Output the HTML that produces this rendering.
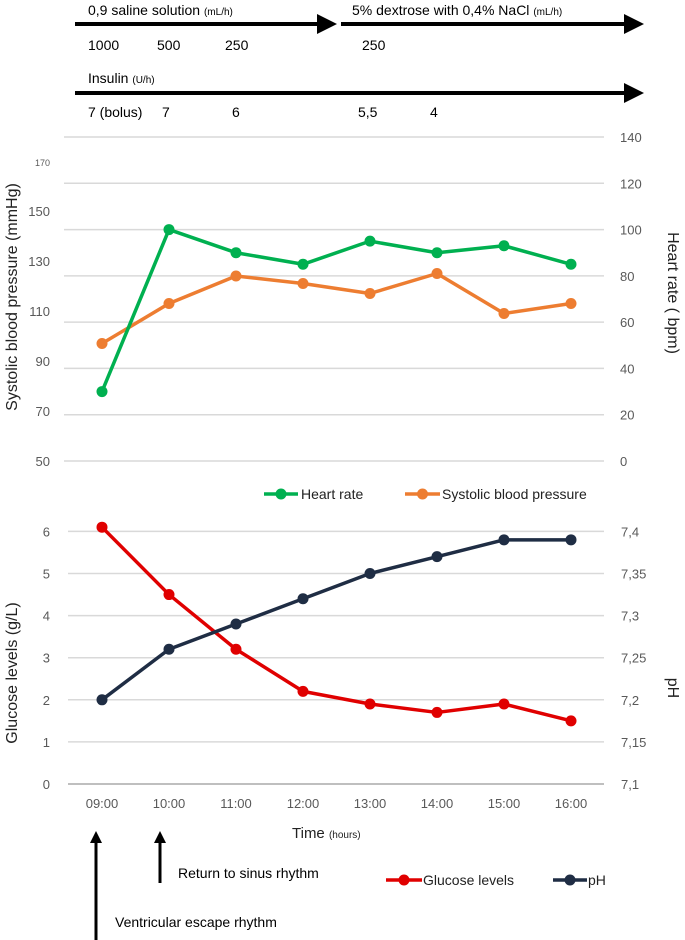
<!DOCTYPE html>
<html><head><meta charset="utf-8"><style>
html,body{margin:0;padding:0;background:#fff;}
svg{display:block;font-family:"Liberation Sans",sans-serif;}
</style></head><body>
<svg id="c" width="685" height="940" viewBox="0 0 685 940">
<defs><marker id="ah" markerWidth="5" markerHeight="5" refX="4" refY="2.5" orient="auto" markerUnits="strokeWidth"><path d="M0,0 L5,2.5 L0,5 z" fill="#000"/></marker>
<marker id="ah2" markerWidth="4" markerHeight="4" refX="3" refY="2" orient="auto" markerUnits="strokeWidth"><path d="M0,0 L4,2 L0,4 z" fill="#000"/></marker></defs>
<g font-size="14" fill="#000">
<text x="88" y="15">0,9 saline solution <tspan font-size="10">(mL/h)</tspan></text>
<line x1="75" y1="24" x2="333" y2="24" stroke="#000" stroke-width="4" marker-end="url(#ah)"/>
<text x="352" y="15">5% dextrose with 0,4% NaCl <tspan font-size="10">(mL/h)</tspan></text>
<line x1="341" y1="24" x2="640" y2="24" stroke="#000" stroke-width="4" marker-end="url(#ah)"/>
<text x="88" y="50">1000</text><text x="157" y="50">500</text><text x="225" y="50">250</text><text x="362" y="50">250</text>
<text x="88" y="83">Insulin <tspan font-size="10">(U/h)</tspan></text>
<line x1="75" y1="93" x2="640" y2="93" stroke="#000" stroke-width="4" marker-end="url(#ah)"/>
<text x="88" y="117">7 (bolus)</text><text x="162" y="117">7</text><text x="232" y="117">6</text><text x="358" y="117">5,5</text><text x="430" y="117">4</text>
</g>
<g id="topchart"></g>
<g id="botchart"></g>
<g font-size="14">
<line x1="96" y1="940" x2="96" y2="834" stroke="#000" stroke-width="3" marker-end="url(#ah2)"/>
<line x1="160" y1="883" x2="160" y2="834" stroke="#000" stroke-width="3" marker-end="url(#ah2)"/>
<text x="178" y="878">Return to sinus rhythm</text>
<text x="115" y="927">Ventricular escape rhythm</text>
</g>
</svg>
<script>
const times=["09:00","10:00","11:00","12:00","13:00","14:00","15:00","16:00"];
const heartRate=[30,100,90,85,95,90,93,85];
const sbp=[97,113,124,121,117,125,109,113];
const sbpTicks=[50,70,90,110,130,150,170];
const hrTicks=[0,20,40,60,80,100,120,140];
const glucose=[6.1,4.5,3.2,2.2,1.9,1.7,1.9,1.5];
const ph=[7.2,7.26,7.29,7.32,7.35,7.37,7.39,7.39];
const glucTicks=[0,1,2,3,4,5,6];
const phTicks=["7,1","7,15","7,2","7,25","7,3","7,35","7,4"];
const NS="http://www.w3.org/2000/svg";
function mk(p,t,a){const e=document.createElementNS(NS,t);for(const k in a)e.setAttribute(k,a[k]);p.appendChild(e);return e;}
const xS=i=>102+i*67;
const yHR=v=>461-v*(324/140);
const ySBP=v=>461-(v-50)*2.5;
const yG=v=>784-v*42.1;
const yPH=v=>784-(v-7.1)*(252.6/0.3);
const gTop=document.getElementById('topchart'),gBot=document.getElementById('botchart');
hrTicks.forEach(v=>{const l=mk(gTop,'line',{x1:64,x2:604,y1:yHR(v),y2:yHR(v),stroke:'#d9d9d9','stroke-width':1.5});


const t=mk(gTop,'text',{x:620,y:yHR(v)+5,'font-size':13,fill:'#595959'});t.textContent=v;

});
sbpTicks.forEach(v=>{const t=mk(gTop,'text',{x:50,y:ySBP(v)+5,'font-size':v===170?9:13,fill:'#595959','text-anchor':'end'});t.textContent=v;

});
function series(g,vals,yf,col,name){const pl=mk(g,'polyline',{points:vals.map((v,i)=>xS(i)+','+yf(v)).join(' '),fill:'none',stroke:col,'stroke-width':3.5,'stroke-linejoin':'round'});


vals.forEach((v,i)=>{const c=mk(g,'circle',{cx:xS(i),cy:yf(v),r:5.5,fill:col});

});}
series(gTop,sbp,ySBP,'#ed7d31','sbp');
series(gTop,heartRate,yHR,'#00b050','heart-rate');
let tt=mk(gTop,'text',{transform:'translate(17,297) rotate(-90)','text-anchor':'middle','font-size':16,fill:'#222'});tt.textContent='Systolic blood pressure (mmHg)';


tt=mk(gTop,'text',{transform:'translate(668,293) rotate(90)','text-anchor':'middle','font-size':16,fill:'#222'});tt.textContent='Heart rate ( bpm)';


function legend(g,x1,x2,y,col,tx,label,name){const l=mk(g,'line',{x1:x1,x2:x2,y1:y,y2:y,stroke:col,'stroke-width':3.5});


const c=mk(g,'circle',{cx:(x1+x2)/2,cy:y,r:5.5,fill:col});


const t=mk(g,'text',{x:tx,y:y+5,'font-size':14,fill:'#222'});t.textContent=label;

}
legend(gTop,264,298,494,'#00b050',301,'Heart rate','heart-rate');
legend(gTop,405,440,494,'#ed7d31',442,'Systolic blood pressure','sbp');
glucTicks.forEach((v,i)=>{const l=mk(gBot,'line',{x1:68,x2:604,y1:yG(v),y2:yG(v),stroke:v===0?'#bfbfbf':'#d9d9d9','stroke-width':v===0?2:1.5});


const a=mk(gBot,'text',{x:50,y:yG(v)+5,'font-size':13,fill:'#595959','text-anchor':'end'});a.textContent=v;


const b=mk(gBot,'text',{x:621,y:yG(v)+5,'font-size':13,fill:'#595959'});b.textContent=phTicks[i];

});
times.forEach((s,i)=>{const a=mk(gBot,'text',{x:xS(i),y:808,'font-size':13,fill:'#595959','text-anchor':'middle'});a.textContent=s;

});
series(gBot,glucose,yG,'#e00000','glucose');
series(gBot,ph,yPH,'#1f2d44','ph');
tt=mk(gBot,'text',{x:292,y:838,'font-size':15,fill:'#222'});tt.innerHTML='Time <tspan font-size="10">(hours)</tspan>';


tt=mk(gBot,'text',{transform:'translate(17,673) rotate(-90)','text-anchor':'middle','font-size':16,fill:'#222'});tt.textContent='Glucose levels (g/L)';


tt=mk(gBot,'text',{transform:'translate(668,688) rotate(90)','text-anchor':'middle','font-size':16,fill:'#222'});tt.textContent='pH';


legend(gBot,386,422,880,'#e00000',423,'Glucose levels','glucose');
legend(gBot,553,587,880,'#1f2d44',588,'pH','ph');
</script>
</body></html>
